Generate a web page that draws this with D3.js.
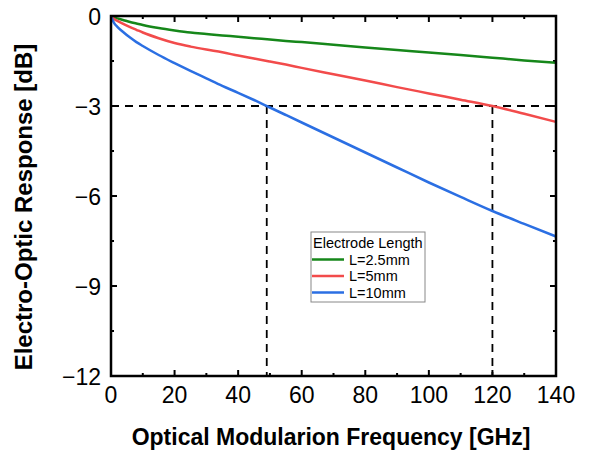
<!DOCTYPE html>
<meta charset="utf-8">
<html>
<head>
<script src="https://cdn.jsdelivr.net/npm/d3@7"></script>
<style>
  body { margin: 0; background: #fff; }
  text { font-family: "Liberation Sans", Arial, sans-serif; fill: #000; }
</style>
</head>
<body>
<div id="chart"></div>
<script>
// frequency points (GHz)
var freq = [0, 1, 2, 4, 6, 8, 10, 15, 20, 25, 30, 35, 40, 45, 50, 55, 60, 70, 80, 90, 100, 110, 120, 130, 140];
// electro-optic response (dB) for each electrode length
var l25 = [0, -0.05, -0.08, -0.14, -0.2, -0.25, -0.3, -0.4, -0.48, -0.55, -0.6, -0.65, -0.69, -0.74, -0.78, -0.83, -0.87, -0.96, -1.05, -1.13, -1.22, -1.3, -1.39, -1.48, -1.56];
var l5 = [0, -0.1, -0.16, -0.27, -0.37, -0.46, -0.55, -0.74, -0.9, -1.02, -1.12, -1.21, -1.32, -1.42, -1.52, -1.62, -1.73, -1.94, -2.15, -2.37, -2.58, -2.79, -3.0, -3.26, -3.53];
var l10 = [0, -0.24, -0.36, -0.55, -0.72, -0.87, -1.0, -1.3, -1.57, -1.83, -2.08, -2.33, -2.56, -2.8, -3.05, -3.3, -3.55, -4.05, -4.55, -5.05, -5.55, -6.03, -6.5, -6.93, -7.35];

var seriesNames = ["L=2.5mm", "L=5mm", "L=10mm"];
var seriesColors = ["#16871a", "#f24b4b", "#2b6fe3"];
var seriesValues = [l25, l5, l10];

var xTicks = [0, 20, 40, 60, 80, 100, 120, 140];
var yTicks = [0, -3, -6, -9, -12];
var cutoffs = [49, 120]; // -3 dB frequencies

var width = 591, height = 453;
var svg = d3.select("#chart").append("svg")
  .attr("width", width).attr("height", height);

var x = d3.scaleLinear().domain([0, 140]).range([111, 556]);
var y = d3.scaleLinear().domain([-12, 0]).range([376, 16]);

// inward ticks on all four sides
var minorX = d3.range(0, 141, 10), minorY = d3.range(-12, 0.1, 1.5);
var ticks = svg.append("g").attr("stroke", "#000").attr("stroke-width", 2);
minorX.forEach(function (v) {
  if (v === 0 || v === 140) return;
  var len = v % 20 === 0 ? 6 : 3;
  ticks.append("line").attr("x1", x(v)).attr("x2", x(v)).attr("y1", y(-12)).attr("y2", y(-12) - len);
  ticks.append("line").attr("x1", x(v)).attr("x2", x(v)).attr("y1", y(0)).attr("y2", y(0) + len);
});
minorY.forEach(function (v) {
  if (v === 0 || v === -12) return;
  var len = v % 3 === 0 ? 6 : 3;
  ticks.append("line").attr("x1", x(0)).attr("x2", x(0) + len).attr("y1", y(v)).attr("y2", y(v));
  ticks.append("line").attr("x1", x(140)).attr("x2", x(140) - len).attr("y1", y(v)).attr("y2", y(v));
});

// dashed -3 dB guide lines
var dash = svg.append("g").attr("stroke", "#000").attr("stroke-width", 1.8)
  .attr("stroke-dasharray", "8,6").attr("fill", "none");
dash.append("line").attr("x1", x(0)).attr("x2", x(140)).attr("y1", y(-3)).attr("y2", y(-3));
cutoffs.forEach(function (c) {
  dash.append("line").attr("x1", x(c)).attr("x2", x(c)).attr("y1", y(-3)).attr("y2", y(-12));
});

// curves
var line = d3.line()
  .x(function (d, i) { return x(freq[i]); })
  .y(function (d) { return y(d); })
  .curve(d3.curveMonotoneX);
seriesValues.forEach(function (vals, k) {
  svg.append("path").datum(vals)
    .attr("fill", "none")
    .attr("stroke", seriesColors[k])
    .attr("stroke-width", 2.5)
    .attr("d", line);
});

// frame
svg.append("rect")
  .attr("x", x(0)).attr("y", y(0))
  .attr("width", x(140) - x(0)).attr("height", y(-12) - y(0))
  .attr("fill", "none").attr("stroke", "#000").attr("stroke-width", 2.5);

// tick labels
svg.selectAll("text.xt").data(xTicks).enter().append("text")
  .attr("class", "xt")
  .attr("x", function (d) { return x(d); })
  .attr("y", 403)
  .attr("text-anchor", "middle")
  .style("font-size", "23px")
  .text(function (d) { return d; });

svg.selectAll("text.yt").data(yTicks).enter().append("text")
  .attr("class", "yt")
  .attr("x", 101)
  .attr("y", function (d) { return y(d) + 8.5; })
  .attr("text-anchor", "end")
  .style("font-size", "23px")
  .text(function (d) { return d === 0 ? "0" : "\u2212" + Math.abs(d); });

// axis titles
svg.append("text")
  .attr("x", 331).attr("y", 445)
  .attr("text-anchor", "middle")
  .style("font-size", "23px").style("font-weight", "bold")
  .text("Optical Modularion Frequency [GHz]");

svg.append("text")
  .attr("transform", "translate(32,207) rotate(-90)")
  .attr("text-anchor", "middle")
  .style("font-size", "24px").style("font-weight", "bold")
  .text("Electro-Optic Response [dB]");

// legend
var lg = svg.append("g");
lg.append("rect").attr("x", 311).attr("y", 232).attr("width", 114).attr("height", 70)
  .attr("fill", "#fff").attr("stroke", "#888").attr("stroke-width", 1);
lg.append("text").attr("x", 313).attr("y", 248).style("font-size", "14.5px").text("Electrode Length");
seriesNames.forEach(function (name, k) {
  var cy = 259.5 + k * 16.5;
  lg.append("line").attr("x1", 312).attr("x2", 344).attr("y1", cy).attr("y2", cy)
    .attr("stroke", seriesColors[k]).attr("stroke-width", 2.5);
  lg.append("text").attr("x", 349).attr("y", cy + 5).style("font-size", "14.5px").text(name);
});
</script>
</body>
</html>
